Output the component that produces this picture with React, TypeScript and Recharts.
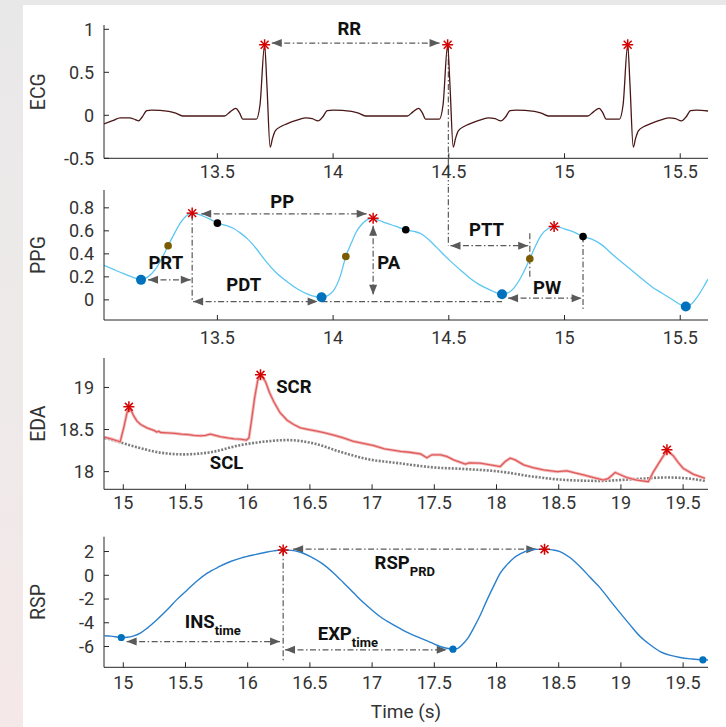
import React from 'react';
import { ComposedChart, Line, Scatter, XAxis, YAxis, ReferenceLine, ReferenceDot } from 'recharts';

type Pt = [number, number];
type Seg = { from: Pt; to: Pt; heads: boolean };
type Note = { at: Pt; text: string; sub?: string };

// ---- ECG ----
const ecgTrace: Pt[] = [
  [13.01, -0.1], [13.05, -0.06], [13.08, -0.03], [13.12, -0.03], [13.145, -0.05], [13.16, -0.065],
  [13.175, -0.02], [13.195, 0.055], [13.215, 0.06], [13.29, 0.045], [13.32, 0.025], [13.35, -0.008],
  [13.53, -0.008], [13.555, 0.04], [13.58, 0.08], [13.595, 0.03], [13.61, -0.045], [13.668, -0.045],
  [13.684, 0.12], [13.704, 0.82], [13.714, 0.35], [13.728, -0.37], [13.738, -0.27], [13.75, -0.18],
  [13.775, -0.13], [13.8, -0.1], [13.84, -0.06], [13.88, -0.03], [13.91, -0.04], [13.935, -0.065],
  [13.955, -0.02], [13.975, 0.055], [14.0, 0.06], [14.08, 0.045], [14.11, 0.025], [14.14, -0.008],
  [14.32, -0.008], [14.345, 0.04], [14.37, 0.08], [14.385, 0.03], [14.4, -0.045], [14.459, -0.045],
  [14.475, 0.12], [14.495, 0.82], [14.505, 0.35], [14.519, -0.37], [14.529, -0.27], [14.541, -0.18],
  [14.566, -0.13], [14.59, -0.1], [14.63, -0.06], [14.67, -0.03], [14.7, -0.04], [14.725, -0.065],
  [14.745, -0.02], [14.765, 0.055], [14.79, 0.06], [14.87, 0.045], [14.9, 0.025], [14.93, -0.008],
  [15.1, -0.008], [15.125, 0.04], [15.15, 0.08], [15.165, 0.03], [15.18, -0.045], [15.237, -0.045],
  [15.253, 0.12], [15.273, 0.82], [15.283, 0.35], [15.297, -0.37], [15.307, -0.27], [15.319, -0.18],
  [15.344, -0.13], [15.37, -0.1], [15.41, -0.06], [15.45, -0.03], [15.48, -0.04], [15.505, -0.065],
  [15.525, -0.02], [15.545, 0.055], [15.57, 0.06], [15.62, 0.05],
];
const ecgPeaks: Pt[] = [[13.704, 0.82], [14.495, 0.82], [15.273, 0.82]];
const ecgTicksY = [-0.5, 0, 0.5, 1];
const topTicksX = [13.5, 14, 14.5, 15, 15.5];

// ---- PPG ----
const ppgTrace: Pt[] = [
  [13.01, 0.3], [13.08, 0.24], [13.13, 0.2], [13.17, 0.174], [13.2, 0.2], [13.23, 0.26], [13.26, 0.36],
  [13.287, 0.47], [13.315, 0.58], [13.34, 0.67], [13.365, 0.73], [13.391, 0.754], [13.43, 0.735],
  [13.47, 0.7], [13.5, 0.667], [13.54, 0.645], [13.57, 0.62], [13.6, 0.58], [13.63, 0.53], [13.67, 0.44],
  [13.71, 0.335], [13.75, 0.245], [13.8, 0.16], [13.85, 0.09], [13.89, 0.05], [13.92, 0.03], [13.95, 0.023],
  [13.975, 0.035], [14.0, 0.075], [14.03, 0.2], [14.055, 0.377], [14.08, 0.5], [14.1, 0.59], [14.125, 0.66],
  [14.15, 0.7], [14.173, 0.71], [14.2, 0.69], [14.23, 0.667], [14.27, 0.64], [14.314, 0.609], [14.35, 0.595],
  [14.38, 0.575], [14.41, 0.53], [14.45, 0.45], [14.5, 0.35], [14.55, 0.26], [14.59, 0.19], [14.63, 0.135],
  [14.68, 0.085], [14.71, 0.058], [14.73, 0.049], [14.755, 0.06], [14.78, 0.1], [14.81, 0.19], [14.85, 0.357],
  [14.875, 0.47], [14.9, 0.565], [14.93, 0.62], [14.955, 0.638], [14.98, 0.63], [15.01, 0.61], [15.05, 0.58],
  [15.08, 0.55], [15.12, 0.525], [15.16, 0.48], [15.21, 0.39], [15.27, 0.29], [15.33, 0.19], [15.38, 0.11],
  [15.42, 0.06], [15.46, 0.01], [15.5, -0.04], [15.524, -0.058], [15.545, -0.04], [15.57, 0.015],
  [15.6, 0.11], [15.62, 0.18],
];
const ppgPeaks: Pt[] = [[13.391, 0.754], [14.173, 0.71], [14.955, 0.638]];
const ppgFeet: Pt[] = [[13.17, 0.174], [13.95, 0.023], [14.73, 0.049], [15.524, -0.058]];
const ppgUpstroke: Pt[] = [[13.287, 0.47], [14.055, 0.377], [14.85, 0.357]];
const ppgNotch: Pt[] = [[13.5, 0.667], [14.314, 0.609], [15.08, 0.55]];
const ppgTicksY = [0, 0.2, 0.4, 0.6, 0.8];

// ---- EDA ----
const edaTrace: Pt[] = [
  [14.85, 18.41], [14.9, 18.39], [14.975, 18.355], [15.005, 18.53], [15.03, 18.7], [15.045, 18.76],
  [15.065, 18.72], [15.085, 18.66], [15.11, 18.6], [15.14, 18.56], [15.19, 18.52], [15.246, 18.49],
  [15.27, 18.47], [15.285, 18.48], [15.3, 18.465], [15.36, 18.46], [15.41, 18.455], [15.47, 18.445],
  [15.52, 18.44], [15.57, 18.43], [15.62, 18.425], [15.66, 18.43], [15.7, 18.445], [15.74, 18.43],
  [15.78, 18.415], [15.84, 18.4], [15.89, 18.39], [15.94, 18.385], [15.99, 18.375], [16.01, 18.4],
  [16.03, 18.6], [16.055, 18.87], [16.08, 19.08], [16.1, 19.14], [16.12, 19.12], [16.143, 19.07],
  [16.175, 18.94], [16.21, 18.83], [16.26, 18.7], [16.317, 18.61], [16.37, 18.56], [16.424, 18.52],
  [16.49, 18.5], [16.558, 18.48], [16.62, 18.46], [16.69, 18.435], [16.77, 18.4], [16.85, 18.36],
  [16.93, 18.335], [17.013, 18.31], [17.1, 18.27], [17.23, 18.24], [17.3, 18.23], [17.39, 18.21],
  [17.44, 18.165], [17.48, 18.2], [17.55, 18.2], [17.6, 18.18], [17.655, 18.14], [17.75, 18.09],
  [17.78, 18.105], [17.87, 18.1], [17.95, 18.08], [18.03, 18.06], [18.07, 18.12], [18.11, 18.16],
  [18.15, 18.14], [18.218, 18.08], [18.3, 18.045], [18.378, 18.02], [18.486, 18.0], [18.566, 18.01],
  [18.63, 17.985], [18.7, 17.96], [18.78, 17.93], [18.86, 17.9], [18.9, 17.92], [18.954, 17.99],
  [19.0, 17.96], [19.048, 17.93], [19.128, 17.9], [19.22, 17.88], [19.262, 18.0], [19.3, 18.09],
  [19.33, 18.16], [19.37, 18.25], [19.42, 18.19], [19.46, 18.11], [19.5, 18.04], [19.58, 17.97],
  [19.677, 17.92],
];
const sclTrace: Pt[] = [
  [14.85, 18.4], [14.876, 18.39], [15.085, 18.3], [15.3, 18.225], [15.487, 18.205], [15.7, 18.23],
  [15.942, 18.315], [16.157, 18.36], [16.317, 18.375], [16.531, 18.335], [16.745, 18.235], [16.96, 18.15],
  [17.214, 18.1], [17.495, 18.05], [17.76, 18.03], [18.03, 18.0], [18.298, 17.94], [18.566, 17.9],
  [18.834, 17.89], [19.1, 17.91], [19.37, 17.93], [19.53, 17.92], [19.677, 17.89],
];
const edaPeaks: Pt[] = [[15.045, 18.77], [16.103, 19.15], [19.37, 18.26]];
const edaTicksY = [18, 18.5, 19];
const lowTicksX = [15, 15.5, 16, 16.5, 17, 17.5, 18, 18.5, 19, 19.5];

// ---- RSP ----
const rspTrace: Pt[] = [
  [14.85, -5.09], [14.9, -5.12], [14.984, -5.24], [15.03, -5.22], [15.085, -5.1], [15.14, -4.85],
  [15.193, -4.45], [15.27, -3.75], [15.353, -2.91], [15.43, -2.05], [15.514, -1.23], [15.59, -0.5],
  [15.675, 0.18], [15.77, 0.72], [15.862, 1.16], [15.95, 1.46], [16.05, 1.72], [16.13, 1.9], [16.21, 2.06],
  [16.285, 2.14], [16.37, 2.08], [16.43, 1.92], [16.505, 1.58], [16.6, 0.98], [16.692, 0.18], [16.77, -0.62],
  [16.853, -1.5], [16.93, -2.3], [17.013, -3.05], [17.08, -3.6], [17.147, -4.03], [17.227, -4.5],
  [17.3, -4.9], [17.388, -5.29], [17.47, -5.65], [17.548, -6.0], [17.6, -6.15], [17.65, -6.22],
  [17.69, -6.15], [17.723, -5.86], [17.77, -5.3], [17.816, -4.45], [17.87, -3.35], [17.924, -2.07],
  [17.98, -0.85], [18.03, 0.18], [18.085, 0.9], [18.137, 1.44], [18.19, 1.8], [18.245, 2.06], [18.32, 2.18],
  [18.386, 2.2], [18.45, 2.14], [18.51, 2.0], [18.59, 1.5], [18.67, 0.74], [18.75, -0.15], [18.835, -1.08],
  [18.915, -2.15], [18.995, -3.19], [19.075, -4.2], [19.155, -5.16], [19.235, -5.85], [19.315, -6.42],
  [19.4, -6.75], [19.476, -6.93], [19.57, -7.05], [19.659, -7.12], [19.7, -7.14],
];
const rspPeaks: Pt[] = [[16.285, 2.14], [18.386, 2.2]];
const rspTroughs: Pt[] = [[14.984, -5.24], [17.65, -6.22], [19.659, -7.12]];
const rspTicksY = [-6, -4, -2, 0, 2];

// ---- annotations (data units) ----
const ecgSegs: Seg[] = [
  { from: [13.735, 0.84], to: [14.46, 0.84], heads: true },
  { from: [14.498, 0.8], to: [14.498, -0.95], heads: false },
];
const ecgNotes: Note[] = [{ at: [14.07, 1.005], text: 'RR' }];

const ppgSegs: Seg[] = [
  { from: [14.498, 1.2], to: [14.498, 0.47], heads: false },
  { from: [13.391, 0.74], to: [13.391, -0.02], heads: false },
  { from: [13.2, 0.174], to: [13.385, 0.174], heads: true },
  { from: [13.43, 0.748], to: [14.145, 0.748], heads: true },
  { from: [13.395, -0.015], to: [13.933, -0.015], heads: true },
  { from: [13.95, -0.015], to: [14.73, -0.015], heads: false },
  { from: [14.173, 0.645], to: [14.173, 0.045], heads: true },
  { from: [14.507, 0.471], to: [14.843, 0.471], heads: true },
  { from: [14.85, 0.58], to: [14.85, 0.2], heads: false },
  { from: [14.756, 0.015], to: [15.074, 0.015], heads: true },
  { from: [15.08, 0.55], to: [15.08, -0.09], heads: false },
];
const ppgNotes: Note[] = [
  { at: [13.277, 0.318], text: 'PRT' },
  { at: [13.78, 0.847], text: 'PP' },
  { at: [13.614, 0.13], text: 'PDT' },
  { at: [14.24, 0.318], text: 'PA' },
  { at: [14.663, 0.608], text: 'PTT' },
  { at: [14.925, 0.107], text: 'PW' },
];

const edaNotes: Note[] = [
  { at: [16.371, 19.0], text: 'SCR' },
  { at: [15.83, 18.107], text: 'SCL' },
];

const rspSegs: Seg[] = [
  { from: [16.365, 2.2], to: [18.32, 2.2], heads: true },
  { from: [16.285, 2.1], to: [16.285, -7.26], heads: false },
  { from: [15.027, -5.58], to: [16.26, -5.58], heads: true },
  { from: [16.3, -6.28], to: [17.6, -6.28], heads: true },
];
const rspNotes: Note[] = [
  { at: [15.495, -3.9], text: 'INS', sub: 'time' },
  { at: [16.563, -4.95], text: 'EXP', sub: 'time' },
  { at: [17.02, 1.02], text: 'RSP', sub: 'PRD' },
];

const FONT = 'Roboto, "Noto Sans", sans-serif';
const AXIS = '#262626';
const INK = '#111';
const RED = '#d40000';
const GUIDE = '#5a5a5a';

const rows = (pts: Pt[]) => pts.map(([t, v]) => ({ t, v }));

const starShape = (p: any) => {
  const { cx, cy } = p;
  const s = 5.5;
  const d = s * 0.72;
  return (
    <g stroke={RED} strokeWidth={1.5}>
      <line x1={cx - s} y1={cy} x2={cx + s} y2={cy} />
      <line x1={cx} y1={cy - s} x2={cx} y2={cy + s} />
      <line x1={cx - d} y1={cy - d} x2={cx + d} y2={cy + d} />
      <line x1={cx - d} y1={cy + d} x2={cx + d} y2={cy - d} />
    </g>
  );
};

const dotShape = (fill: string, r: number) => (p: any) => <circle cx={p.cx} cy={p.cy} r={r} fill={fill} />;

const arrowShape = (heads: boolean) => (p: any) => {
  const { x1, y1, x2, y2 } = p;
  const len = Math.hypot(x2 - x1, y2 - y1) || 1;
  const ux = (x2 - x1) / len;
  const uy = (y2 - y1) / len;
  const head = (x: number, y: number, dx: number, dy: number) => {
    const bx = x - dx * 10;
    const by = y - dy * 10;
    const px = -dy * 4;
    const py = dx * 4;
    return <polygon points={`${x},${y} ${bx + px},${by + py} ${bx - px},${by - py}`} fill={GUIDE} />;
  };
  return (
    <g>
      <line x1={x1} y1={y1} x2={x2} y2={y2} stroke={GUIDE} strokeWidth={1.2} strokeDasharray="6 2.5 1.5 2.5" />
      {heads && head(x1, y1, -ux, -uy)}
      {heads && head(x2, y2, ux, uy)}
    </g>
  );
};

const noteShape = (n: Note) => (p: any) => (
  <text
    x={p.cx}
    y={p.cy}
    textAnchor={n.sub ? 'start' : 'middle'}
    dominantBaseline="central"
    fontFamily={FONT}
    fontWeight={700}
    fontSize={18.5}
    fill={INK}
  >
    {n.text}
    {n.sub && (
      <tspan fontSize={13} dy={8}>
        {n.sub}
      </tspan>
    )}
  </text>
);

const segLines = (segs: Seg[], id: string) =>
  segs.map((s, i) => (
    <ReferenceLine
      key={`${id}-seg-${i}`}
      segment={[{ x: s.from[0], y: s.from[1] }, { x: s.to[0], y: s.to[1] }]}
      ifOverflow="visible"
      shape={arrowShape(s.heads)}
    />
  ));

const noteDots = (notes: Note[], id: string) =>
  notes.map((n, i) => (
    <ReferenceDot key={`${id}-note-${i}`} x={n.at[0]} y={n.at[1]} ifOverflow="visible" shape={noteShape(n)} />
  ));

const tickStyle = { fill: '#333', fontSize: 18, fontFamily: FONT };

interface PanelProps {
  top: number;
  height: number;
  margin: { top: number; bottom: number };
  xDomain: [number, number];
  xTicks: number[];
  yDomain: [number, number];
  yTicks: number[];
  yLabel: string;
  xTickMargin: number;
  xHeight?: number;
  xLabel?: string;
  children: React.ReactNode;
}

function Panel({ top, height, margin, xDomain, xTicks, yDomain, yTicks, yLabel, xTickMargin, xHeight = 20, xLabel, children }: PanelProps) {
  return (
    <div style={{ position: 'absolute', left: 0, top, width: 726, height }}>
      <ComposedChart width={726} height={height} margin={{ top: margin.top, right: 18, bottom: margin.bottom, left: 0 }}>
        <XAxis
          type="number"
          dataKey="t"
          domain={xDomain}
          ticks={xTicks}
          interval={0}
          allowDataOverflow
          height={xHeight}
          tickSize={-5}
          tickMargin={xTickMargin}
          axisLine={{ stroke: AXIS }}
          tickLine={{ stroke: AXIS }}
          tick={tickStyle}
          label={
            xLabel
              ? { value: xLabel, position: 'insideBottom', offset: 4, fill: '#333', fontSize: 19, fontFamily: FONT }
              : undefined
          }
        />
        <YAxis
          type="number"
          domain={yDomain}
          ticks={yTicks}
          interval={0}
          allowDataOverflow
          width={104}
          tickSize={-5}
          tickMargin={15}
          axisLine={{ stroke: AXIS }}
          tickLine={{ stroke: AXIS }}
          tick={tickStyle}
          label={{
            value: yLabel,
            angle: -90,
            position: 'insideLeft',
            offset: 38,
            fill: '#333',
            fontSize: 19.5,
            fontFamily: FONT,
            style: { textAnchor: 'middle' },
          }}
        />
        {children}
      </ComposedChart>
    </div>
  );
}

export default function App() {
  return (
    <div style={{ position: 'absolute', left: 0, top: 0, width: 726, height: 727, overflow: 'hidden', background: 'linear-gradient(180deg, #e9e8e8 0%, #eeeaea 50%, #f5e8e8 100%)' }}>
      <div style={{ position: 'absolute', left: 23, top: 5, right: 0, bottom: 0, background: '#fff' }} />

      <Panel top={0} height={185} margin={{ top: 25, bottom: 6.7 }} xDomain={[13.01, 15.62]} xTicks={topTicksX}
        yDomain={[-0.5, 1.05]} yTicks={ecgTicksY} yLabel="ECG" xTickMargin={12}>
        {segLines(ecgSegs, 'ecg')}
        <Line data={rows(ecgTrace)} dataKey="v" type="monotone" stroke="#4a1616" strokeWidth={1.3} dot={false} activeDot={false} isAnimationActive={false} />
        <Scatter data={rows(ecgPeaks)} dataKey="v" shape={starShape} isAnimationActive={false} />
        {noteDots(ecgNotes, 'ecg')}
      </Panel>

      <Panel top={185} height={165} margin={{ top: 5, bottom: 10 }} xDomain={[13.01, 15.62]} xTicks={topTicksX}
        yDomain={[-0.175, 0.955]} yTicks={ppgTicksY} yLabel="PPG" xTickMargin={16}>
        {segLines(ppgSegs, 'ppg')}
        <Line data={rows(ppgTrace)} dataKey="v" type="monotone" stroke="#5cc6f2" strokeWidth={1.3} dot={false} activeDot={false} isAnimationActive={false} />
        <Scatter data={rows(ppgFeet)} dataKey="v" shape={dotShape('#0072bd', 5)} isAnimationActive={false} />
        <Scatter data={rows(ppgUpstroke)} dataKey="v" shape={dotShape('#7a5c00', 3.8)} isAnimationActive={false} />
        <Scatter data={rows(ppgNotch)} dataKey="v" shape={dotShape('#000', 3.8)} isAnimationActive={false} />
        <Scatter data={rows(ppgPeaks)} dataKey="v" shape={starShape} isAnimationActive={false} />
        {noteDots(ppgNotes, 'ppg')}
      </Panel>

      <Panel top={350} height={180} margin={{ top: 8, bottom: 20.7 }} xDomain={[14.845, 19.7]} xTicks={lowTicksX}
        yDomain={[17.79, 19.35]} yTicks={edaTicksY} yLabel="EDA" xTickMargin={12}>
        <Line data={rows(sclTrace)} dataKey="v" type="monotone" stroke="#7d7d7d" strokeWidth={2.6} strokeDasharray="2 1.5" dot={false} activeDot={false} isAnimationActive={false} />
        <Line data={rows(edaTrace)} dataKey="v" type="linear" stroke="#f3b9b9" strokeWidth={3} dot={false} activeDot={false} isAnimationActive={false} />
        <Line data={rows(edaTrace)} dataKey="v" type="linear" stroke="#e05c5c" strokeWidth={1.3} dot={false} activeDot={false} isAnimationActive={false} />
        <Scatter data={rows(edaPeaks)} dataKey="v" shape={starShape} isAnimationActive={false} />
        {noteDots(edaNotes, 'eda')}
      </Panel>

      <Panel top={530} height={197} margin={{ top: 6.7, bottom: 4.7 }} xDomain={[14.845, 19.7]} xTicks={lowTicksX}
        yDomain={[-7.75, 3.25]} yTicks={rspTicksY} yLabel="RSP" xTickMargin={14} xHeight={55} xLabel="Time (s)">
        {segLines(rspSegs, 'rsp')}
        <Line data={rows(rspTrace)} dataKey="v" type="monotone" stroke="#2a80cc" strokeWidth={1.4} dot={false} activeDot={false} isAnimationActive={false} />
        <Scatter data={rows(rspTroughs)} dataKey="v" shape={dotShape('#0072bd', 3.6)} isAnimationActive={false} />
        <Scatter data={rows(rspPeaks)} dataKey="v" shape={starShape} isAnimationActive={false} />
        {noteDots(rspNotes, 'rsp')}
      </Panel>
    </div>
  );
}
